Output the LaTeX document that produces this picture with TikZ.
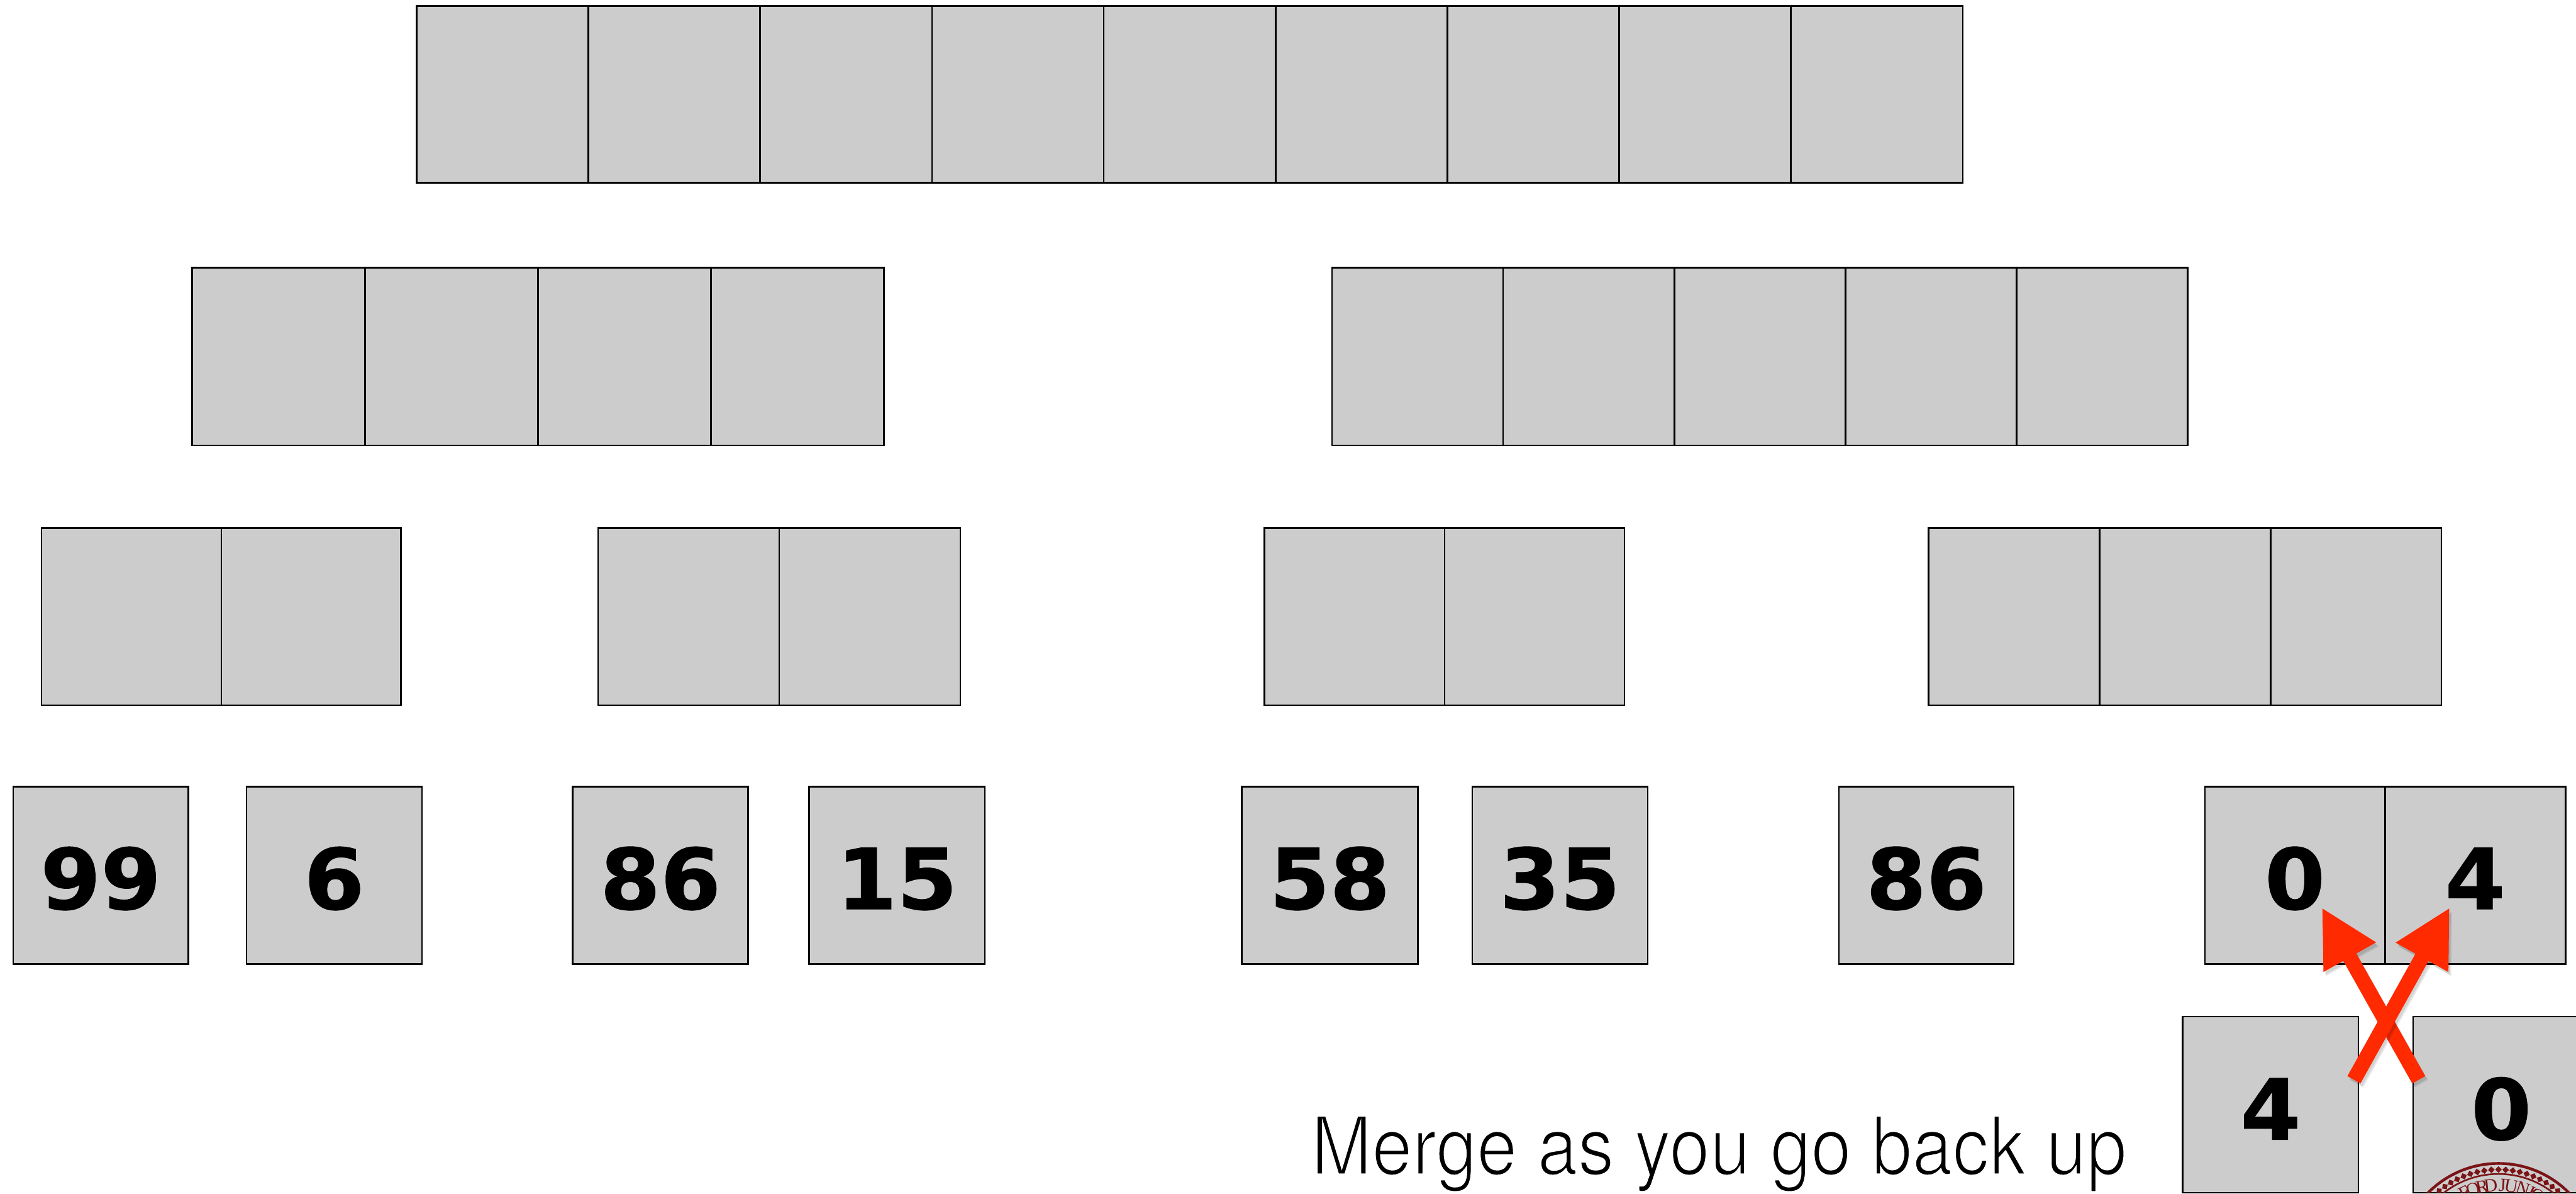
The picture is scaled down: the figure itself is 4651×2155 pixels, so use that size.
\documentclass[tikz,border=0pt]{standalone}
\usepackage{fontspec}
\usetikzlibrary{arrows.meta,calc}
\newfontfamily\digitfont[BoldFeatures={FakeStretch=1.03,FakeBold=0.8}]{DejaVu Sans}
\newfontfamily\captionfont[FakeStretch=0.90]{TeX Gyre Heros}
\newfontfamily\sealfont{Liberation Serif}
\definecolor{cellgray}{HTML}{CCCCCC}
\definecolor{arrowred}{HTML}{FF2A00}
\definecolor{sealred}{HTML}{7B1416}
\tikzset{
  cellbox/.style={draw=black,line width=1.5pt,fill=cellgray,inner sep=0pt,outer sep=0pt,rectangle},
  digitlabel/.style={anchor=base,inner sep=0pt,text=black,font=\fontsize{76}{76}\selectfont\digitfont\bfseries},
  captionlabel/.style={anchor=base west,inner sep=0pt,text=black,font=\fontsize{73}{75}\selectfont\captionfont},
  redarrow/.style={draw=arrowred,line width=13.5pt,-{Triangle[length=51.5pt,width=50.5pt,fill=arrowred]}},
  arrowshade/.style={draw=black,line width=13.5pt,opacity=.09,-{Triangle[length=51.5pt,width=50.5pt]}},
  sealline/.style={draw=sealred},
  sealletter/.style={inner sep=0pt,text=sealred,font=\fontsize{17}{17}\selectfont\sealfont}
}
% name, left, cell width, number of cells, top, bottom
\newcommand{\cellrow}[6]{%
  \foreach \i in {1,...,#4}{%
    \node[cellbox,minimum width=#3*0.5pt,minimum height={(#6-#5)*0.5pt}] (#1\i)
      at ({#2+#3*(\i-0.5)},{(#5+#6)/2}) {};
  }%
}
% name, left, right, top, bottom, digits, baseline
\newcommand{\numbox}[7]{%
  \node[cellbox,minimum width={(#3-#2)*0.5pt},minimum height={(#5-#4)*0.5pt}] (#1)
    at ({(#2+#3)/2},{(#4+#5)/2}) {};
  \node[digitlabel] (#1t) at ({(#2+#3)/2},#7) {#6};
}
% light weight of the caption: a thin white outline round each glyph
\newcommand{\lighttext}[1]{\special{pdf:code 2 Tr 1.8 w 1 1 1 RG}#1\special{pdf:code 0 Tr 0 0 0 RG}}
\begin{document}
\begin{tikzpicture}[x=0.5pt,y=-0.5pt]
\useasboundingbox (0,0) rectangle (4651,2155);
\clip (0,0) rectangle (4651,2155);
% upper rows
\cellrow{top}{752}{310.2}{9}{11}{330}
\cellrow{ml}{347}{312.2}{4}{483}{804}
\cellrow{mr}{2405}{309}{5}{483}{804}
\cellrow{la}{75}{324.5}{2}{953}{1273}
\cellrow{lb}{1080}{327}{2}{953}{1273}
\cellrow{lc}{2283}{325}{2}{953}{1273}
\cellrow{ld}{3482}{308.7}{3}{953}{1273}
% leaves
\numbox{a}{24}{340}{1420}{1740}{99}{1641}
\numbox{b}{445}{762}{1420}{1740}{6}{1641}
\numbox{c}{1034}{1351}{1420}{1740}{86}{1641}
\numbox{d}{1461}{1778}{1420}{1740}{15}{1641}
\numbox{e}{2242}{2560}{1420}{1740}{58}{1641}
\numbox{f}{2658}{2975}{1420}{1740}{35}{1641}
\numbox{g}{3320}{3636}{1420}{1740}{86}{1641}
\numbox{h}{3981}{4306}{1420}{1740}{0}{1641}
\numbox{i}{4306}{4632}{1420}{1740}{4}{1641}
% moved pair
\numbox{j}{3941}{4258}{1835}{2153}{4}{2057}
\numbox{k}{4357}{4675}{1835}{2153}{0}{2057}
% seal
\begin{scope}
\clip (4357,2000) rectangle (4675,2152);
\coordinate (sealc) at (4511,2279);
\draw[sealline,line width=2.5pt] (sealc) circle[radius=179*0.5pt];
\draw[sealline,line width=1.5pt] (sealc) circle[radius=160*0.5pt];
\foreach \a in {-44,-39.6,...,44}{
  \fill[sealred,rotate around={\a:(sealc)}] (4511,2105) -- (4517,2111) -- (4511,2117) -- (4505,2111) -- cycle;
}
\foreach \a/\l in {-26/F,-19.2/O,-11.9/R,-5.7/D,2.9/J,9.4/U,18.4/N,25/I,30.3/O,37/R}{
  \node[sealletter,rotate=-\a] at ($(sealc)+({140*sin(\a)},{-140*cos(\a)})$) {\l};
}
\end{scope}
% caption
\node[captionlabel] (cap) at (2367,2120) {\lighttext{Merge as you go back up}};
% arrows
\coordinate (t1) at (4367,1949);
\coordinate (h1) at (4192,1638);
\coordinate (t2) at (4250,1949);
\coordinate (h2) at (4423,1638);
\draw[arrowshade] ([shift={(3,5)}]t1) -- ([shift={(3,5)}]h1);
\draw[arrowshade] ([shift={(5,7)}]t1) -- ([shift={(5,7)}]h1);
\draw[redarrow] (t1) -- (h1);
\draw[arrowshade] ([shift={(3,5)}]t2) -- ([shift={(3,5)}]h2);
\draw[arrowshade] ([shift={(5,7)}]t2) -- ([shift={(5,7)}]h2);
\draw[redarrow] (t2) -- (h2);
\end{tikzpicture}
\end{document}
